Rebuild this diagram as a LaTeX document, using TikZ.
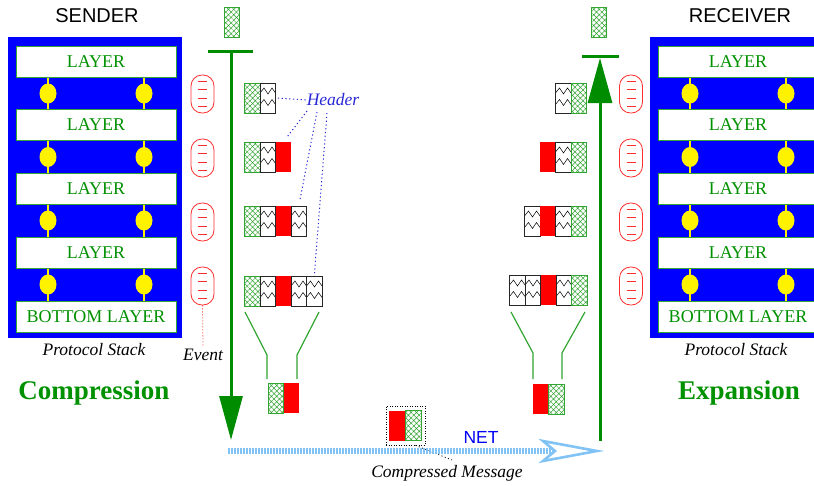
\documentclass[tikz,border=0pt]{standalone}
\usepackage{fontspec}
\setmainfont{Liberation Serif}
\setsansfont{Liberation Sans}
\usetikzlibrary{patterns.meta,arrows.meta,shapes.geometric}

\definecolor{stackblue}{RGB}{0,0,255}
\definecolor{txtgreen}{RGB}{0,145,0}
\definecolor{arrgreen}{RGB}{0,140,0}
\definecolor{lgreen}{RGB}{50,165,50}
\definecolor{hdrblue}{RGB}{40,40,215}
\definecolor{netblue}{RGB}{130,195,245}
\definecolor{netword}{RGB}{0,0,245}
\definecolor{capred}{RGB}{255,45,45}

\tikzset{
  layerbox/.style={draw=lgreen, line width=1pt, fill=white, minimum width=160pt,
    minimum height=31pt, inner sep=0pt, text=txtgreen, font=\fontsize{18}{20}\selectfont},
  plug/.style={ellipse, fill=yellow, minimum width=17pt, minimum height=20pt, inner sep=0pt},
  plugline/.style={draw=yellow, line width=1.5pt},
  capsule/.style={draw=capred, line width=0.8pt, rounded corners=11pt, minimum width=23pt,
    minimum height=38pt, inner sep=0pt,
    path picture={\foreach \yy in {6.5,14.5,23,31.5}{\draw[capred, line width=0.9pt]
      ([shift={(7,\yy)}]path picture bounding box.north west) -- ++(9,0);}}},
  cell/.style={minimum width=15.5pt, minimum height=30pt, inner sep=0pt, outer sep=0pt, anchor=north west},
  hcell/.style={cell, draw=lgreen, line width=0.8pt,
    pattern={Hatch[angle=45,distance=3.8pt,line width=0.5pt]}, pattern color=lgreen},
  zcell/.style={cell, draw=black!85, line width=0.8pt, fill=white,
    path picture={\draw[black, line width=0.5pt]
      ([shift={(0,10)}]path picture bounding box.north west) -- ++(4,-5) -- ++(4,6) -- ++(4,-6) -- ++(3.5,5)
      ([shift={(0,21.5)}]path picture bounding box.north west) -- ++(4,-5) -- ++(4,6) -- ++(4,-6) -- ++(3.5,5);}},
  rcell/.style={cell, fill=red},
  arrline/.style={draw=arrgreen, line width=3pt},
  funnel/.style={draw=lgreen, line width=1.2pt},
  hdrline/.style={draw=hdrblue, line width=1pt, dash pattern=on 1.2pt off 2.6pt},
  titletext/.style={font=\sffamily\fontsize{20}{22}\selectfont},
  captext/.style={font=\itshape\fontsize{17.5}{19}\selectfont},
  bigtext/.style={font=\bfseries\fontsize{27}{29}\selectfont, text=txtgreen},
}

\begin{document}
\begin{tikzpicture}[x=1pt,y=-1pt]
\useasboundingbox (0,0) rectangle (814,485);

% titles
\node[titletext] (sender) at (97,16) {SENDER};
\node[titletext] (receiver) at (740,16) {RECEIVER};

% protocol stacks
\fill[stackblue] (8,37) rectangle (182,338);
\fill[stackblue] (650,37) rectangle (830,338);

\foreach \i/\yy/\t in {1/61.5/LAYER,2/125/LAYER,3/189/LAYER,4/253/LAYER,5/316.5/BOTTOM LAYER}{
  \node[layerbox] (sl\i) at (96,\yy) {\t};
  \node[layerbox] (rl\i) at (738,\yy) {\t};
}
\foreach \i/\j/\yy in {1/2/93.5,2/3/157,3/4/220.5,4/5/284.5}{
  \draw[plugline] ([xshift=-48pt]sl\i.south) -- ([xshift=-48pt]sl\j.north);
  \draw[plugline] ([xshift=48pt]sl\i.south) -- ([xshift=48pt]sl\j.north);
  \draw[plugline] ([xshift=-48pt]rl\i.south) -- ([xshift=-48pt]rl\j.north);
  \draw[plugline] ([xshift=48pt]rl\i.south) -- ([xshift=48pt]rl\j.north);
  \node[plug] (spa\i) at (48,\yy) {};
  \node[plug] (spb\i) at (144,\yy) {};
  \node[plug] (rpa\i) at (690,\yy) {};
  \node[plug] (rpb\i) at (786,\yy) {};
}

\node[captext] (sps) at (94,350) {Protocol Stack};
\node[captext] (rps) at (736,350) {Protocol Stack};
\node[bigtext] (comp) at (94,393) {Compression};
\node[bigtext] (expn) at (739,393) {Expansion};

% events (capsules)
\foreach \i/\yy in {1/94,2/158,3/222,4/286}{
  \node[capsule] (sc\i) at (202.5,\yy) {};
  \node[capsule] (rc\i) at (631,\yy) {};
}
\node[captext] (event) at (203,355) {Event};
\draw[draw=capred, line width=0.8pt, dash pattern=on 1pt off 2pt] (sc4.south) -- (event.north);

% green arrows
\coordinate (sbarL) at (208,51);
\coordinate (sbarR) at (253,51);
\coordinate (stopc) at (231,51);
\coordinate (sbot) at (231,440);
\draw[arrline] (sbarL) -- (sbarR);
\draw[arrline, -{Triangle[width=23pt,length=44pt]}] (stopc) -- (sbot);

\coordinate (rbarL) at (582,56);
\coordinate (rbarR) at (619,56);
\coordinate (rtip) at (600,58);
\coordinate (rbot) at (600,441);
\draw[arrline] (rbarL) -- (rbarR);
\draw[arrline, -{Triangle[width=24pt,length=45pt]}] (rbot) -- (rtip);

% top messages
\node[hcell] (stop) at (224,7) {};
\node[hcell] (rtop) at (591,7) {};

% sender messages
\node[hcell] (s1a) at (244.5,83) {};
\node[zcell] (s1b) at (260,83) {};

\node[hcell] (s2a) at (244.5,142) {};
\node[zcell] (s2b) at (260,142) {};
\node[rcell] (s2c) at (275.5,142) {};

\node[hcell] (s3a) at (244.5,206) {};
\node[zcell] (s3b) at (260,206) {};
\node[rcell] (s3c) at (275.5,206) {};
\node[zcell] (s3d) at (291,206) {};

\node[hcell] (s4a) at (244.5,276) {};
\node[zcell] (s4b) at (260,276) {};
\node[rcell] (s4c) at (275.5,276) {};
\node[zcell] (s4d) at (291,276) {};
\node[zcell] (s4e) at (306.5,276) {};

% receiver messages
\node[zcell] (r1a) at (555.5,83) {};
\node[hcell] (r1b) at (571,83) {};

\node[rcell] (r2a) at (540,142) {};
\node[zcell] (r2b) at (555.5,142) {};
\node[hcell] (r2c) at (571,142) {};

\node[zcell] (r3a) at (524.5,206) {};
\node[rcell] (r3b) at (540,206) {};
\node[zcell] (r3c) at (555.5,206) {};
\node[hcell] (r3d) at (571,206) {};

\node[zcell] (r4a) at (509.5,275) {};
\node[zcell] (r4b) at (525,275) {};
\node[rcell] (r4c) at (540.5,275) {};
\node[zcell] (r4d) at (556,275) {};
\node[hcell] (r4e) at (571.5,275) {};

% header labels
\node[captext, text=hdrblue, inner sep=1pt] (hdr) at (333,100) {Header};
\coordinate (h1) at (307,111);
\coordinate (h2) at (317,112);
\coordinate (h3) at (327,113);
\draw[hdrline] (hdr.west) -- (s1b.east);
\draw[hdrline, shorten >=5pt] (h1) -- (s2c.north);
\draw[hdrline, shorten >=6pt] (h2) -- (s3d.north);
\draw[hdrline, shorten >=3pt] (h3) -- (s4e.north);

% funnels
\draw[funnel] (245,312) -- (267,355) -- (267,379);
\draw[funnel] (319,312) -- (297,355) -- (297,379);
\draw[funnel] (511,312) -- (533,353) -- (533,379);
\draw[funnel] (585,312) -- (562,353) -- (562,379);

% compressed blocks
\node[hcell] (sca) at (268,383) {};
\node[rcell] (scb) at (283.5,383) {};
\node[rcell] (rca) at (532.5,384) {};
\node[hcell] (rcb) at (548.5,384) {};

% compressed message on the net
\node[draw=black, line width=0.8pt, dash pattern=on 1pt off 1.5pt, minimum width=39pt,
  minimum height=39pt, inner sep=0pt] (cm) at (405.5,425.5) {};
\node[rcell, minimum width=16.5pt] (cma) at (389,410.5) {};
\node[hcell] (cmb) at (405.5,410.5) {};
\coordinate (cmt) at (452,460);
\draw[black, line width=0.8pt, dash pattern=on 1pt off 2.5pt] ([xshift=10pt]cm.south) -- (cmt);
\node[captext] (cmlabel) at (447,473) {Compressed Message};

% NET
\coordinate (netL) at (228,451);
\coordinate (netR) at (556,451);
\draw[draw=netblue, line width=6pt, dash pattern=on 2pt off 1pt] (netL) -- (netR);
\draw[draw=netblue, line width=2.6pt, fill=white, line join=miter]
  (543,441) -- (597,451) -- (543,461) -- (555,451) -- cycle;
\node[font=\sffamily\fontsize{17.5}{19}\selectfont, text=netword] (net) at (481,437) {NET};
\end{tikzpicture}
\end{document}
